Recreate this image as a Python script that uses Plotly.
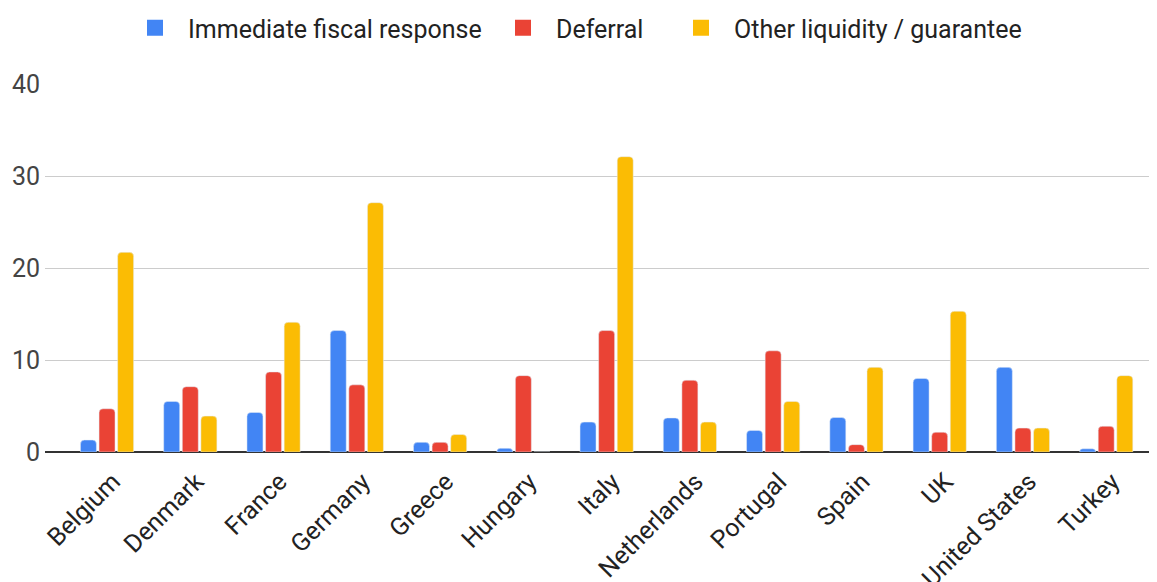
import plotly.graph_objects as go

countries = ["Belgium", "Denmark", "France", "Germany", "Greece", "Hungary", "Italy",
             "Netherlands", "Portugal", "Spain", "UK", "United States", "Turkey"]
immediate = [1.3, 5.5, 4.3, 13.2, 1.05, 0.4, 3.25, 3.7, 2.35, 3.75, 8.0, 9.2, 0.35]
deferral = [4.7, 7.1, 8.7, 7.3, 1.05, 8.3, 13.2, 7.8, 11.0, 0.8, 2.15, 2.6, 2.8]
other = [21.7, 3.9, 14.1, 27.1, 1.9, 0.0, 32.1, 3.25, 5.5, 9.2, 15.3, 2.6, 8.3]

series_names = ["Immediate fiscal response", "Deferral", "Other liquidity / guarantee"]
series_values = [immediate, deferral, other]
colors = ["#4285F4", "#EA4335", "#FBBC04"]
y_ticks = [0, 10, 20, 30, 40]

FONT = "Roboto, Arial, sans-serif"
W, H = 1149, 574  # the page body adds an 8px margin, so the figure fills the rest

fig = go.Figure()
for name, vals, col in zip(series_names, series_values, colors):
    fig.add_trace(go.Bar(x=countries, y=vals, name=name, marker_color=col,
                         showlegend=False, hoverinfo="x+y"))

legend_ids = ["legend", "legend2", "legend3"]
legend_left = [114, 482, 660]
for name, col, lid in zip(series_names, colors, legend_ids):
    fig.add_trace(go.Scatter(x=[None], y=[None], mode="markers", name=name, legend=lid,
                             marker=dict(symbol="square", size=18, color=col)))

# label-only axis carrying the category tick labels, nudged slightly right
fig.add_trace(go.Scatter(x=countries, y=[None] * len(countries), xaxis="x2",
                         mode="markers", showlegend=False, hoverinfo="skip"))

legend_style = dict(orientation="h", xanchor="left", y=1 - 20 / H, yanchor="middle",
                    yref="container", xref="container",
                    font=dict(size=25, color="#222222"), itemwidth=56)

fig.update_layout(
    width=W, height=H,
    margin=dict(l=37, r=0, t=76, b=130),
    paper_bgcolor="white", plot_bgcolor="white",
    barmode="group", bargap=0.33, bargroupgap=0.14, barcornerradius=4,
    font=dict(family=FONT, size=25, color="#444444"),
    xaxis=dict(range=[-0.745, 12.61], showgrid=False, automargin=False,
               showticklabels=False, ticks="", showline=False),
    xaxis2=dict(overlaying="x", anchor="y", side="bottom",
                range=[-0.745 - 0.072, 12.61 - 0.072], tickangle=-45,
                showgrid=False, automargin=False, ticklabelstandoff=9,
                tickfont=dict(size=25, color="#222222"), ticks="", showline=False,
                zeroline=False),
    yaxis=dict(range=[0, 40], tickvals=y_ticks, showgrid=True, gridcolor="#cccccc",
               gridwidth=1, zeroline=True, zerolinecolor="#333333", zerolinewidth=2,
               automargin=False, ticklabelstandoff=4,
               tickfont=dict(size=25, color="#444444"), ticks="", showline=False),
)
for lid, left in zip(legend_ids, legend_left):
    fig.update_layout({lid: dict(legend_style, x=left / W)})

fig.write_html("out.html")
